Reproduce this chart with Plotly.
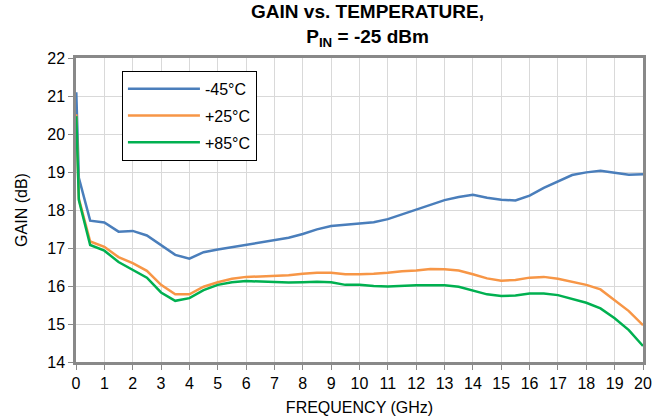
import plotly.graph_objects as go

freq_ghz = [0.01, 0.1, 0.5, 1.0, 1.5, 2.0, 2.5, 3.0, 3.5, 4.0, 4.5, 5.0, 5.5, 6.0, 6.5,
            7.0, 7.5, 8.0, 8.5, 9.0, 9.5, 10.0, 10.5, 11.0, 11.5, 12.0, 12.5, 13.0,
            13.5, 14.0, 14.5, 15.0, 15.5, 16.0, 16.5, 17.0, 17.5, 18.0, 18.5, 19.0,
            19.5, 20.0]

gain_m45 = [21.1, 18.85, 17.72, 17.67, 17.43, 17.45, 17.33, 17.08, 16.82, 16.72, 16.89,
            16.96, 17.02, 17.08, 17.14, 17.21, 17.27, 17.37, 17.49, 17.58, 17.61, 17.65,
            17.68, 17.76, 17.89, 18.0, 18.14, 18.26, 18.34, 18.40, 18.32, 18.27, 18.25,
            18.38, 18.58, 18.75, 18.92, 18.99, 19.03, 18.98, 18.93, 18.94]

gain_p25 = [20.52, 18.3, 17.17, 17.03, 16.76, 16.6, 16.4, 16.03, 15.78, 15.78, 15.98,
            16.10, 16.19, 16.24, 16.25, 16.27, 16.28, 16.32, 16.35, 16.35, 16.31, 16.31,
            16.32, 16.35, 16.39, 16.41, 16.45, 16.44, 16.41, 16.31, 16.20, 16.14, 16.16,
            16.22, 16.24, 16.19, 16.11, 16.03, 15.91, 15.63, 15.34, 14.97]

gain_p85 = [20.47, 18.26, 17.08, 16.93, 16.63, 16.42, 16.22, 15.83, 15.61, 15.68, 15.89,
            16.03, 16.10, 16.13, 16.12, 16.10, 16.09, 16.10, 16.11, 16.10, 16.03, 16.03,
            16.0, 15.99, 16.01, 16.02, 16.02, 16.02, 15.98, 15.89, 15.78, 15.74, 15.75,
            15.80, 15.80, 15.76, 15.67, 15.56, 15.41, 15.15, 14.84, 14.42]

series_names = ["-45°C", "+25°C", "+85°C"]
series_colors = ["#4a7ebb", "#f79646", "#00b050"]

fig = go.Figure()
for name, vals, col in zip(series_names, [gain_m45, gain_p25, gain_p85], series_colors):
    fig.add_trace(go.Scatter(x=freq_ghz, y=vals, mode="lines", name=name,
                             legendgroup=name,
                             line=dict(color=col, width=2.5)))

FONT = "Liberation Sans, Arial"
axis_common = dict(
    showgrid=True, gridcolor="#d9d9d9", gridwidth=1,
    showline=True, linecolor="#898989", linewidth=2.5, mirror=True,
    ticks="outside", tickcolor="#898989", ticklen=5, tickwidth=1,
    zeroline=False,
    tickfont=dict(family=FONT, size=16, color="#000"),
)

fig.update_layout(
    width=654, height=420,
    margin=dict(l=76, r=11, t=58, b=58, autoexpand=False),
    paper_bgcolor="white", plot_bgcolor="white",
    font=dict(family=FONT, color="#000"),
    title=dict(text="<b>GAIN vs. TEMPERATURE,<br>P<sub>IN</sub> = -25 dBm</b>",
               x=0.562, xanchor="center", y=0.957, yanchor="top",
               font=dict(size=19, family=FONT, color="#000")),
    xaxis=dict(range=[0, 20], dtick=1, tick0=0,
               title=dict(text="FREQUENCY (GHz)", standoff=11,
                          font=dict(size=16, family=FONT)),
               **axis_common),
    yaxis=dict(range=[14, 22], dtick=1, tick0=14,
               title=dict(text="GAIN (dB)", standoff=16,
                          font=dict(size=16, family=FONT)),
               **axis_common),
    legend=dict(x=0.081, y=0.958, xanchor="left", yanchor="top",
                bgcolor="white", bordercolor="#000", borderwidth=1,
                font=dict(size=16, family=FONT, color="#000"),
                traceorder="grouped", tracegroupgap=3, itemwidth=72),
)

fig.write_html("out.html", config={"displayModeBar": False},
               post_script="document.body.style.margin='0';")
